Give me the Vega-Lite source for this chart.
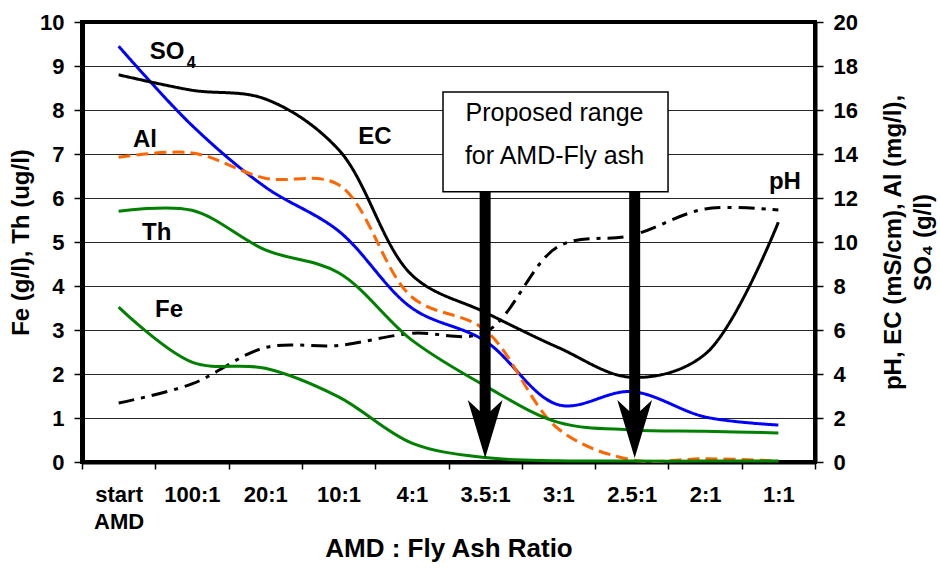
{
  "$schema": "https://vega.github.io/schema/vega-lite/v6.json",
  "width": 733,
  "height": 440,
  "autosize": {"type": "none"},
  "padding": {"left": 82, "top": 22, "right": 125, "bottom": 106},
  "background": "white",
  "config": {
    "font": "Liberation Sans",
    "view": {"stroke": "black", "strokeWidth": 4},
    "axis": {
      "labelFont": "Liberation Sans",
      "labelFontSize": 22,
      "labelFontWeight": "bold",
      "labelColor": "black",
      "titleFont": "Liberation Sans",
      "titleFontSize": 24,
      "titleFontWeight": "bold",
      "titleColor": "black",
      "domainColor": "black",
      "tickColor": "black",
      "tickWidth": 1.5,
      "tickSize": 8
    }
  },
  "datasets": {
    "right": [
      {"s": "SO4", "x": 0, "v": 18.9}, {"s": "SO4", "x": 1, "v": 15.3}, {"s": "SO4", "x": 2, "v": 12.5}, {"s": "SO4", "x": 3, "v": 10.5}, {"s": "SO4", "x": 4, "v": 7.0},
      {"s": "SO4", "x": 5, "v": 5.5}, {"s": "SO4", "x": 6, "v": 2.6}, {"s": "SO4", "x": 7, "v": 3.2}, {"s": "SO4", "x": 8, "v": 2.05}, {"s": "SO4", "x": 9, "v": 1.68},
      {"s": "EC", "x": 0, "v": 17.6}, {"s": "EC", "x": 1, "v": 16.9}, {"s": "EC", "x": 2, "v": 16.5}, {"s": "EC", "x": 3, "v": 14.2}, {"s": "EC", "x": 4, "v": 8.5},
      {"s": "EC", "x": 5, "v": 6.8}, {"s": "EC", "x": 6, "v": 5.2}, {"s": "EC", "x": 7, "v": 3.85}, {"s": "EC", "x": 8, "v": 4.9}, {"s": "EC", "x": 9, "v": 10.9},
      {"s": "Al", "x": 0, "v": 13.85}, {"s": "Al", "x": 1, "v": 14.05}, {"s": "Al", "x": 2, "v": 12.9}, {"s": "Al", "x": 3, "v": 12.6}, {"s": "Al", "x": 4, "v": 7.5},
      {"s": "Al", "x": 5, "v": 6.0}, {"s": "Al", "x": 6, "v": 1.5}, {"s": "Al", "x": 7, "v": 0.1}, {"s": "Al", "x": 8, "v": 0.15}, {"s": "Al", "x": 9, "v": 0.05},
      {"s": "pH", "x": 0, "v": 2.68}, {"s": "pH", "x": 1, "v": 3.55}, {"s": "pH", "x": 2, "v": 5.2}, {"s": "pH", "x": 3, "v": 5.3}, {"s": "pH", "x": 4, "v": 5.85},
      {"s": "pH", "x": 5, "v": 5.9}, {"s": "pH", "x": 6, "v": 9.8}, {"s": "pH", "x": 7, "v": 10.3}, {"s": "pH", "x": 8, "v": 11.5}, {"s": "pH", "x": 9, "v": 11.45}
    ],
    "left": [
      {"s": "Th", "x": 0, "v": 5.7}, {"s": "Th", "x": 1, "v": 5.72}, {"s": "Th", "x": 2, "v": 4.82}, {"s": "Th", "x": 3, "v": 4.3}, {"s": "Th", "x": 4, "v": 2.77},
      {"s": "Th", "x": 5, "v": 1.73}, {"s": "Th", "x": 6, "v": 0.9}, {"s": "Th", "x": 7, "v": 0.73}, {"s": "Th", "x": 8, "v": 0.7}, {"s": "Th", "x": 9, "v": 0.66},
      {"s": "Fe", "x": 0, "v": 3.52}, {"s": "Fe", "x": 1, "v": 2.27}, {"s": "Fe", "x": 2, "v": 2.13}, {"s": "Fe", "x": 3, "v": 1.48}, {"s": "Fe", "x": 4, "v": 0.43},
      {"s": "Fe", "x": 5, "v": 0.1}, {"s": "Fe", "x": 6, "v": 0.03}, {"s": "Fe", "x": 7, "v": 0.02}, {"s": "Fe", "x": 8, "v": 0.02}, {"s": "Fe", "x": 9, "v": 0.02}
    ]
  },
  "encoding": {
    "x": {
      "field": "x",
      "type": "quantitative",
      "scale": {"domain": [-0.5, 9.5], "nice": false, "zero": false},
      "title": "AMD : Fly Ash Ratio",
      "axis": {
        "values": [-0.5, 0.5, 1.5, 2.5, 3.5, 4.5, 5.5, 6.5, 7.5, 8.5, 9.5],
        "labelExpr": "[['start','AMD'],'100:1','20:1','10:1','4:1','3.5:1','3:1','2.5:1','2:1','1:1',''][round(datum.value + 0.5)]",
        "labelOffset": 36.65,
        "labelPadding": 15,
        "labelOverlap": false,
        "labelBound": false,
        "labelFlush": false,
        "labelLineHeight": 27,
        "domainWidth": 4,
        "tickSize": 7,
        "grid": false,
        "titleFontSize": 26,
        "titlePadding": 3
      }
    }
  },
  "layer": [
    {
      "data": {"name": "right"},
      "mark": {"type": "line", "interpolate": "catmull-rom", "strokeWidth": 3},
      "encoding": {
        "y": {
          "field": "v",
          "type": "quantitative",
          "scale": {"domain": [0, 20], "nice": false},
          "title": ["pH, EC (mS/cm), Al (mg/l),", "SO₄ (g/l)"],
          "axis": {
            "orient": "right",
            "values": [0, 2, 4, 6, 8, 10, 12, 14, 16, 18, 20],
            "grid": false,
            "domainWidth": 4,
            "labelPadding": 10,
            "titleAngle": 270,
            "titlePadding": 18,
            "titleLineHeight": 30
          }
        },
        "color": {
          "field": "s",
          "type": "nominal",
          "scale": {"domain": ["SO4", "EC", "Al", "pH"], "range": ["#0000FF", "#000000", "#FF6600", "#000000"]},
          "legend": null
        },
        "strokeDash": {
          "field": "s",
          "type": "nominal",
          "scale": {"domain": ["SO4", "EC", "Al", "pH"], "range": [[1, 0], [1, 0], [12, 6], [16, 7, 4, 7]]},
          "legend": null
        }
      }
    },
    {
      "encoding": {
        "y": {
          "field": "v",
          "type": "quantitative",
          "scale": {"domain": [0, 10], "nice": false},
          "title": "Fe (g/l), Th (ug/l)",
          "axis": {
            "orient": "left",
            "values": [0, 1, 2, 3, 4, 5, 6, 7, 8, 9, 10],
            "grid": true,
            "gridColor": "black",
            "gridWidth": 1,
            "gridOpacity": 0.85,
            "domainWidth": 5,
            "labelPadding": 10,
            "titlePadding": 6
          }
        }
      },
      "layer": [
        {
          "data": {"name": "left"},
          "mark": {"type": "line", "interpolate": "catmull-rom", "strokeWidth": 3, "color": "#008000"},
          "encoding": {"detail": {"field": "s"}}
        },
        {
          "data": {"values": [{"x": 4.425, "x2": 7.495, "v": 8.41, "v2": 6.14}]},
          "mark": {"type": "rect", "fill": "white", "stroke": "black", "strokeWidth": 1.5},
          "encoding": {"x2": {"field": "x2"}, "y2": {"field": "v2"}}
        },
        {
          "data": {"values": [{"x": 5.946, "v": 7.93, "t": "Proposed range"}, {"x": 5.946, "v": 6.95, "t": "for AMD-Fly ash"}]},
          "mark": {"type": "text", "fontSize": 25, "font": "Liberation Sans", "color": "black"},
          "encoding": {"text": {"field": "t"}}
        },
        {
          "data": {"values": [{"x": 5.0, "v": 6.14, "v2": 1.0}, {"x": 7.04, "v": 6.14, "v2": 1.0}]},
          "mark": {"type": "rule", "strokeWidth": 11, "color": "black"},
          "encoding": {"y2": {"field": "v2"}}
        },
        {
          "data": {"values": [{"x": 5.0, "v": 0.75}, {"x": 7.04, "v": 0.75}]},
          "mark": {"type": "point", "shape": "M0,1L-0.6,-1L-0.19,-0.62L0.19,-0.62L0.6,-1Z", "size": 3364, "filled": true, "color": "black", "opacity": 1}
        },
        {
          "data": {"values": [
            {"x": 0.66, "v": 9.32, "t": "SO"},
            {"x": 0.36, "v": 7.32, "t": "Al"},
            {"x": 3.497, "v": 7.39, "t": "EC"},
            {"x": 0.52, "v": 5.2, "t": "Th"},
            {"x": 0.687, "v": 3.45, "t": "Fe"},
            {"x": 9.09, "v": 6.36, "t": "pH"}
          ]},
          "mark": {"type": "text", "fontSize": 24, "fontWeight": "bold", "font": "Liberation Sans", "color": "black"},
          "encoding": {"text": {"field": "t"}}
        },
        {
          "data": {"values": [{"x": 0.99, "v": 9.07, "t": "4"}]},
          "mark": {"type": "text", "fontSize": 16, "fontWeight": "bold", "font": "Liberation Sans", "color": "black"},
          "encoding": {"text": {"field": "t"}}
        }
      ]
    }
  ],
  "resolve": {"scale": {"y": "independent"}}
}
